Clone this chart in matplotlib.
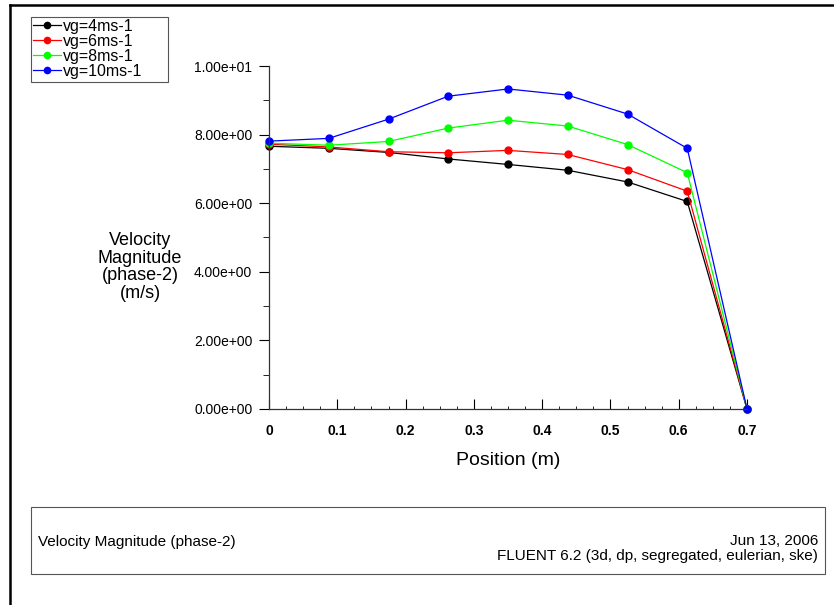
import matplotlib
matplotlib.use("Agg")
import matplotlib.pyplot as plt
from matplotlib.lines import Line2D
from matplotlib.patches import Rectangle
from matplotlib.ticker import MultipleLocator, FuncFormatter

plt.rcParams["font.family"] = ["Liberation Sans", "DejaVu Sans"]

position = [0, 0.0875, 0.175, 0.2625, 0.35, 0.4375, 0.525, 0.6125, 0.7]
vel_4 = [7.66, 7.60, 7.48, 7.29, 7.13, 6.96, 6.62, 6.05, 0.0]
vel_6 = [7.72, 7.64, 7.50, 7.47, 7.54, 7.42, 6.98, 6.35, 0.0]
vel_8 = [7.75, 7.69, 7.80, 8.19, 8.42, 8.25, 7.71, 6.89, 0.0]
vel_10 = [7.81, 7.89, 8.45, 9.12, 9.33, 9.15, 8.60, 7.60, 0.0]
labels = ["vg=4ms-1", "vg=6ms-1", "vg=8ms-1", "vg=10ms-1"]
colors = ["#000000", "#ff0000", "#00ff00", "#0000ff"]

W, H = 834, 605
fig = plt.figure(figsize=(W / 100, H / 100), dpi=100)
ax = fig.add_axes([269 / W, (H - 409) / H, (747 - 269) / W, (409 - 66) / H])

for vals, lab, col in zip([vel_4, vel_6, vel_8, vel_10], labels, colors):
    ax.plot(position, vals, color=col, lw=0.9, marker="o", ms=5,
            label=lab, clip_on=False)

ax.set_xlim(0, 0.7)
ax.set_ylim(0, 10)
for s in ["top", "right"]:
    ax.spines[s].set_visible(False)
for s in ["left", "bottom"]:
    ax.spines[s].set_color("#333333")
    ax.spines[s].set_linewidth(0.9)

ax.xaxis.set_major_locator(MultipleLocator(0.1))
ax.xaxis.set_minor_locator(MultipleLocator(0.025))
ax.yaxis.set_major_locator(MultipleLocator(2))
ax.yaxis.set_minor_locator(MultipleLocator(1))
ax.xaxis.set_major_formatter(FuncFormatter(lambda v, p: "0" if v == 0 else f"{v:.1f}"))
ax.yaxis.set_major_formatter(FuncFormatter(lambda v, p: f"{v:.2e}"))
ax.tick_params(axis="x", which="major", direction="in", length=7, labelsize=10, pad=11)
ax.tick_params(axis="x", which="minor", direction="in", length=2)
ax.tick_params(axis="y", which="major", direction="out", length=7, labelsize=10, pad=5)
ax.tick_params(axis="y", which="minor", direction="out", length=4)
for t in ax.get_xticklabels():
    t.set_fontweight("bold")

ax.set_xlabel("Position (m)", fontsize=14, labelpad=10)
fig.text(140 / W, 1 - 267 / H, "Velocity\nMagnitude\n(phase-2)\n(m/s)",
         ha="center", va="center", fontsize=13, linespacing=1.05)

# legend without its own frame; box drawn separately (it is wider than the text)
fig.legend(loc="upper left", bbox_to_anchor=(31 / W, 1 - 17 / H),
           fontsize=11.5, frameon=False, handlelength=1.8,
           handletextpad=0.1, borderpad=0.1, labelspacing=0.0,
           borderaxespad=0, markerscale=0.9)
fig.add_artist(Rectangle((31 / W, 1 - 82 / H), (168 - 31) / W, (82 - 17) / H,
                         transform=fig.transFigure, fill=False,
                         edgecolor="#555555", lw=0.8))

# bottom info box
fig.add_artist(Rectangle((31 / W, 1 - 574 / H), (825 - 31) / W, (574 - 507) / H,
                         transform=fig.transFigure, fill=False,
                         edgecolor="#555555", lw=0.8))
fig.text(38 / W, 1 - 542 / H, "Velocity Magnitude (phase-2)", fontsize=11, va="center")
fig.text(818 / W, 1 - 541 / H, "Jun 13, 2006", fontsize=11, va="center", ha="right")
fig.text(818 / W, 1 - 556 / H, "FLUENT 6.2 (3d, dp, segregated, eulerian, ske)",
         fontsize=11, va="center", ha="right")

# outer frame (left and top edges)
fig.add_artist(Line2D([10 / W, 10 / W], [0, 1 - 5 / H], transform=fig.transFigure,
                      color="black", lw=1.8))
fig.add_artist(Line2D([10 / W, 1], [1 - 5 / H, 1 - 5 / H], transform=fig.transFigure,
                      color="black", lw=1.8))

fig.savefig("out.png", dpi=100, facecolor="white")
